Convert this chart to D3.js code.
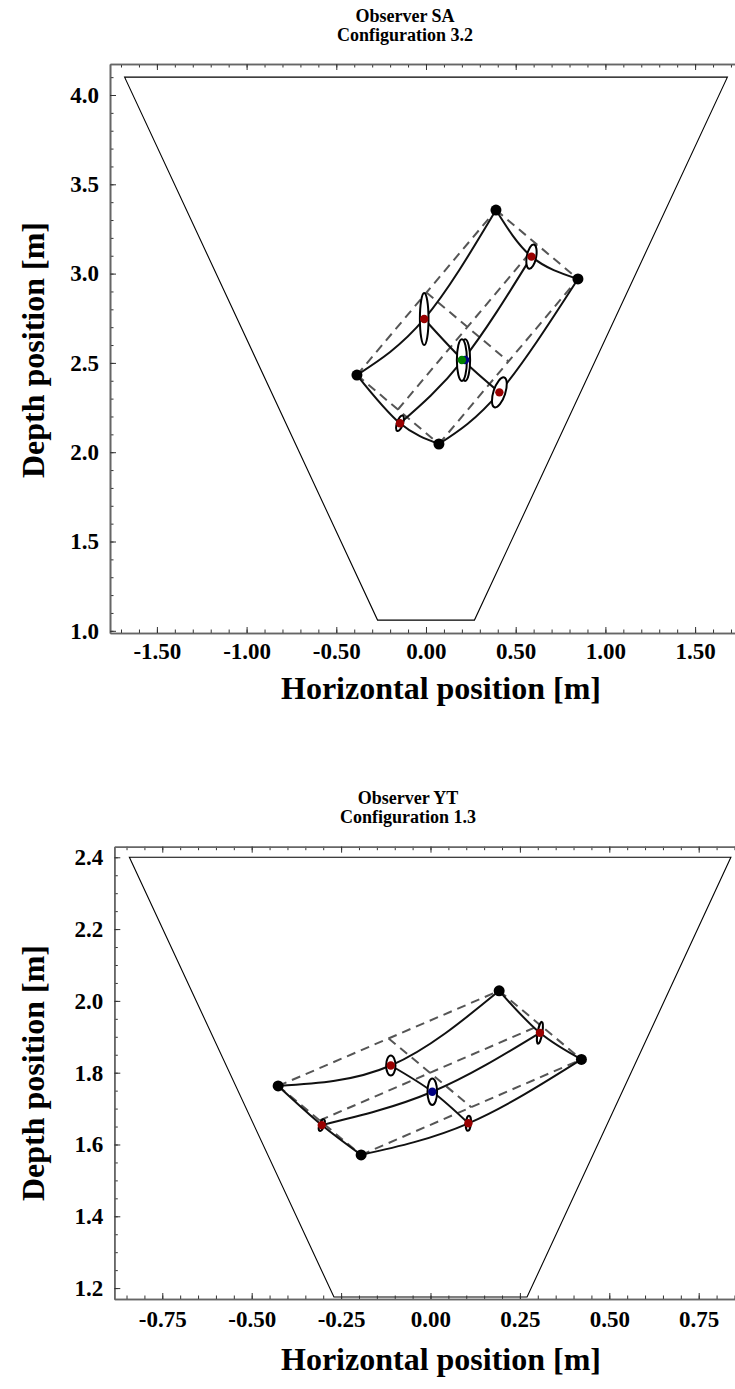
<!DOCTYPE html>
<html>
<head>
<meta charset="utf-8">
<script src="https://cdn.jsdelivr.net/npm/d3@7"></script>
<style>
  body { margin: 0; background: #fff; }
  svg { display: block; font-family: "Liberation Serif", "Times New Roman", serif; font-weight: bold; }
</style>
</head>
<body>
<script>
// ---- data: observer SA, configuration 3.2 ----
const saTitle = ["Observer SA", "Configuration 3.2"];
const saXTicks = [-1.5, -1, -0.5, 0, 0.5, 1, 1.5];
const saYTicks = [1, 1.5, 2, 2.5, 3, 3.5, 4];
// field of view trapezoid
const saField = [[-1.68, 4.1], [1.68, 4.1], [0.27, 1.06], [-0.27, 1.06]];
// 3x3 layout: rows along long side, [x, y]
const saGrid = [
  [[-0.385, 2.432], [-0.010, 2.746], [0.390, 3.356]],
  [[-0.145, 2.162], [0.205, 2.516], [0.588, 3.095]],
  [[0.072, 2.046], [0.409, 2.335], [0.847, 2.970]]
];
// estimated positions with uncertainty ellipses
const saMarkX = [-0.010, 0.588, 0.409, -0.145, 0.218, 0.200];
const saMarkY = [2.746, 3.095, 2.335, 2.162, 2.516, 2.516];
const saMarkRx = [0.024, 0.026, 0.033, 0.017, 0.028, 0.028];
const saMarkRy = [0.146, 0.069, 0.088, 0.046, 0.117, 0.117];
const saMarkTilt = [0, 11, 18, 19, 0, 0];
const saMarkKind = ["edge", "edge", "edge", "edge", "centerB", "centerA"];

// ---- data: observer YT, configuration 1.3 ----
const ytTitle = ["Observer YT", "Configuration 1.3"];
const ytXTicks = [-0.75, -0.5, -0.25, 0, 0.25, 0.5, 0.75];
const ytYTicks = [1.2, 1.4, 1.6, 1.8, 2.0, 2.2, 2.4];
const ytField = [[-0.842, 2.4], [0.84, 2.4], [0.27, 1.175], [-0.27, 1.175]];
const ytGrid = [
  [[-0.426, 1.763], [-0.111, 1.820], [0.192, 2.028]],
  [[-0.304, 1.654], [0.005, 1.747], [0.306, 1.911]],
  [[-0.194, 1.571], [0.106, 1.659], [0.422, 1.837]]
];
const ytMarkX = [-0.111, 0.306, 0.106, -0.304, 0.005];
const ytMarkY = [1.820, 1.911, 1.659, 1.654, 1.747];
const ytMarkRx = [0.013, 0.0065, 0.007, 0.0065, 0.0134];
const ytMarkRy = [0.028, 0.031, 0.021, 0.017, 0.037];
const ytMarkTilt = [0, 10, 5, 20, 0];
const ytMarkKind = ["edge", "edge", "edge", "edge", "centerB"];

const kindColor = {edge: "#990000", centerA: "#008000", centerB: "#000080"};

const svg = d3.select("body").append("svg")
    .attr("width", 735)
    .attr("height", 1389);

function panel(o) {
  const x = d3.scaleLinear().domain(o.xDomain).range([o.left, o.right]);
  const y = d3.scaleLinear().domain(o.yDomain).range([o.bottom, o.top]);
  const g = svg.append("g");

  // titles
  g.append("text")
      .attr("x", o.titleX).attr("y", o.titleY)
      .attr("text-anchor", "middle")
      .attr("font-size", 18)
    .selectAll("tspan")
    .data(o.title)
    .join("tspan")
      .attr("x", o.titleX)
      .attr("dy", (d, i) => i ? 19 : 0)
      .text(d => d);

  // field of view
  g.append("path")
      .attr("d", d3.line().x(d => x(d[0])).y(d => y(d[1]))(o.field) + "Z")
      .attr("fill", "none")
      .attr("stroke", "#000")
      .attr("stroke-width", 1.1);

  // straight (dashed) layout
  const G = o.grid;
  const mid = (a, b) => [(a[0] + b[0]) / 2, (a[1] + b[1]) / 2];
  const L = G[0][0], T = G[0][2], B = G[2][0], R = G[2][2];
  const dashed = [
    [L, T], [B, R], [L, B], [T, R],
    [mid(L, B), mid(T, R)], [mid(L, T), mid(B, R)]
  ];
  g.append("g")
      .attr("stroke", "#555")
      .attr("stroke-width", 2)
      .attr("stroke-dasharray", "9,6")
    .selectAll("line")
    .data(dashed)
    .join("line")
      .attr("x1", d => x(d[0][0])).attr("y1", d => y(d[0][1]))
      .attr("x2", d => x(d[1][0])).attr("y2", d => y(d[1][1]));

  // curved (solid) layout
  const curve = d3.line().x(d => x(d[0])).y(d => y(d[1])).curve(d3.curveNatural);
  const rows = G;
  const cols = [0, 1, 2].map(j => G.map(r => r[j]));
  g.append("g")
      .attr("fill", "none")
      .attr("stroke", "#111")
      .attr("stroke-width", 2)
    .selectAll("path")
    .data(rows.concat(cols))
    .join("path")
      .attr("d", curve);

  // corner dots
  g.append("g")
    .selectAll("circle")
    .data([L, T, B, R])
    .join("circle")
      .attr("cx", d => x(d[0])).attr("cy", d => y(d[1]))
      .attr("r", 5.5)
      .attr("fill", "#000");

  // uncertainty ellipses and estimates
  const marks = o.mx.map((v, i) => ({x: v, y: o.my[i], rx: o.rx[i], ry: o.ry[i], tilt: o.tilt[i], kind: o.kind[i]}));
  const sx = Math.abs(x(1) - x(0)), sy = Math.abs(y(1) - y(0));
  g.append("g")
    .selectAll("ellipse")
    .data(marks)
    .join("ellipse")
      .attr("transform", d => `translate(${x(d.x)},${y(d.y)}) rotate(${d.tilt})`)
      .attr("rx", d => d.rx * sx)
      .attr("ry", d => d.ry * sy)
      .attr("fill", "#fff")
      .attr("stroke", "#000")
      .attr("stroke-width", 2);
  g.append("g")
    .selectAll("circle")
    .data(marks)
    .join("circle")
      .attr("cx", d => x(d.x)).attr("cy", d => y(d.y))
      .attr("r", 4.2)
      .attr("fill", d => kindColor[d.kind]);

  // axes
  const fmtX = d => d.toFixed(2), fmtY = d => d.toFixed(1);
  const minorX = d3.range(Math.ceil(o.xDomain[0] / o.xMinor), Math.floor(o.xDomain[1] / o.xMinor) + 1).map(k => +(k * o.xMinor).toFixed(3));
  const minorY = d3.range(Math.ceil(o.yDomain[0] / o.yMinor), Math.floor(o.yDomain[1] / o.yMinor) + 1).map(k => +(k * o.yMinor).toFixed(3));

  function styleAxis(sel) {
    sel.attr("font-family", null).attr("font-size", null);
    sel.select(".domain").attr("stroke", "#666").attr("stroke-width", 1.6);
    sel.selectAll(".tick line").attr("stroke", "#333").attr("stroke-width", 1);
    sel.selectAll("text").attr("font-size", 23).attr("fill", "#000");
  }

  g.append("g").attr("transform", `translate(0,${o.bottom})`)
      .call(d3.axisBottom(x).tickValues(minorX).tickSize(-3.5).tickSizeOuter(0).tickFormat(""))
      .call(styleAxis);
  g.append("g").attr("transform", `translate(0,${o.bottom})`)
      .call(d3.axisBottom(x).tickValues(o.xTicks).tickSize(-6).tickSizeOuter(0).tickPadding(o.xPad).tickFormat(fmtX))
      .call(styleAxis);
  g.append("g").attr("transform", `translate(0,${o.top})`)
      .call(d3.axisTop(x).tickValues(minorX).tickSize(-3.5).tickSizeOuter(0).tickFormat(""))
      .call(styleAxis);
  g.append("g").attr("transform", `translate(0,${o.top})`)
      .call(d3.axisTop(x).tickValues(o.xTicks).tickSize(-6).tickSizeOuter(0).tickFormat(""))
      .call(styleAxis);
  g.append("g").attr("transform", `translate(${o.left},0)`)
      .call(d3.axisLeft(y).tickValues(minorY).tickSize(-3.5).tickSizeOuter(0).tickFormat(""))
      .call(styleAxis);
  g.append("g").attr("transform", `translate(${o.left},0)`)
      .call(d3.axisLeft(y).tickValues(o.yTicks).tickSize(-6).tickSizeOuter(0).tickPadding(11).tickFormat(fmtY))
      .call(styleAxis);

  // axis titles
  g.append("text")
      .attr("x", o.xTitleX).attr("y", o.xTitleY)
      .attr("text-anchor", "middle")
      .attr("font-size", 32)
      .text("Horizontal position [m]");
  g.append("text")
      .attr("transform", `translate(44,${o.yTitleY}) rotate(-90)`)
      .attr("text-anchor", "middle")
      .attr("font-size", 32)
      .text("Depth position [m]");
}

panel({
  title: saTitle, titleX: 405, titleY: 22,
  left: 110, right: 735, top: 64, bottom: 633,
  xDomain: [-1.7614, 1.7224], yDomain: [0.9877, 4.1736],
  xTicks: saXTicks, yTicks: saYTicks, xMinor: 0.1, yMinor: 0.1, xPad: 10,
  field: saField, grid: saGrid,
  mx: saMarkX, my: saMarkY, rx: saMarkRx, ry: saMarkRy, tilt: saMarkTilt, kind: saMarkKind,
  xTitleX: 441, xTitleY: 699, yTitleY: 350
});

panel({
  title: ytTitle, titleX: 408, titleY: 804,
  left: 114.3, right: 735, top: 846.7, bottom: 1299,
  xDomain: [-0.8842, 0.8515], yDomain: [1.1696, 2.4295],
  xTicks: ytXTicks, yTicks: ytYTicks, xMinor: 0.05, yMinor: 0.05, xPad: 12,
  field: ytField, grid: ytGrid,
  mx: ytMarkX, my: ytMarkY, rx: ytMarkRx, ry: ytMarkRy, tilt: ytMarkTilt, kind: ytMarkKind,
  xTitleX: 441, xTitleY: 1370, yTitleY: 1073
});
</script>
</body>
</html>
